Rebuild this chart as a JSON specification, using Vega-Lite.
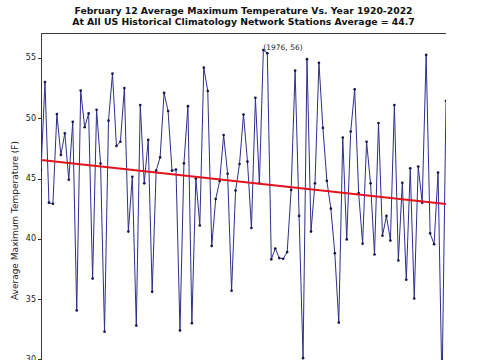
{
  "$schema": "https://vega.github.io/schema/vega-lite/v6.json",
  "width": 405,
  "height": 374,
  "autosize": {"type": "none"},
  "padding": {"left": 41, "top": 33, "right": 0, "bottom": 0},
  "background": "white",
  "config": {
    "font": "DejaVu Sans",
    "view": {"stroke": "#3a3a3a", "strokeWidth": 1},
    "axis": {"grid": false, "labelColor": "#222", "tickColor": "#333", "domainColor": "#3a3a3a", "labelFontSize": 8, "titleFontSize": 9, "titleFontWeight": "normal", "titleColor": "#222", "tickSize": 3.5, "labelPadding": 2}
  },
  "title": {
    "text": ["February 12 Average Maximum Temperature Vs. Year 1920-2022", "At All US Historical Climatology Network Stations Average = 44.7"],
    "fontSize": 9.3,
    "fontWeight": "bold",
    "color": "#111",
    "anchor": "middle",
    "offset": 6,
    "lineHeight": 11
  },
  "datasets": {
    "temps": [
      {"year": 1920, "temp": 45.7}, {"year": 1921, "temp": 53.0}, {"year": 1922, "temp": 43.0}, {"year": 1923, "temp": 42.9},
      {"year": 1924, "temp": 50.35}, {"year": 1925, "temp": 46.95}, {"year": 1926, "temp": 48.75}, {"year": 1927, "temp": 44.9},
      {"year": 1928, "temp": 49.7}, {"year": 1929, "temp": 34.05}, {"year": 1930, "temp": 52.3}, {"year": 1931, "temp": 49.25},
      {"year": 1932, "temp": 50.4}, {"year": 1933, "temp": 36.7}, {"year": 1934, "temp": 50.7}, {"year": 1935, "temp": 46.25},
      {"year": 1936, "temp": 32.3}, {"year": 1937, "temp": 49.8}, {"year": 1938, "temp": 53.7}, {"year": 1939, "temp": 47.7},
      {"year": 1940, "temp": 48.05}, {"year": 1941, "temp": 52.5}, {"year": 1942, "temp": 40.6}, {"year": 1943, "temp": 45.15},
      {"year": 1944, "temp": 32.8}, {"year": 1945, "temp": 51.1}, {"year": 1946, "temp": 44.6}, {"year": 1947, "temp": 48.2},
      {"year": 1948, "temp": 35.6}, {"year": 1949, "temp": 45.65}, {"year": 1950, "temp": 46.75}, {"year": 1951, "temp": 52.1},
      {"year": 1952, "temp": 50.6}, {"year": 1953, "temp": 45.65}, {"year": 1954, "temp": 45.75}, {"year": 1955, "temp": 32.4},
      {"year": 1956, "temp": 46.26}, {"year": 1957, "temp": 51.0}, {"year": 1958, "temp": 33.0}, {"year": 1959, "temp": 45.0},
      {"year": 1960, "temp": 41.1}, {"year": 1961, "temp": 54.2}, {"year": 1962, "temp": 52.26}, {"year": 1963, "temp": 39.4},
      {"year": 1964, "temp": 43.3}, {"year": 1965, "temp": 44.8}, {"year": 1966, "temp": 48.6}, {"year": 1967, "temp": 45.4},
      {"year": 1968, "temp": 35.7}, {"year": 1969, "temp": 44.0}, {"year": 1970, "temp": 46.2}, {"year": 1971, "temp": 50.3},
      {"year": 1972, "temp": 46.4}, {"year": 1973, "temp": 40.9}, {"year": 1974, "temp": 51.7}, {"year": 1975, "temp": 44.6},
      {"year": 1976, "temp": 55.66}, {"year": 1977, "temp": 55.4}, {"year": 1978, "temp": 38.3}, {"year": 1979, "temp": 39.2},
      {"year": 1980, "temp": 38.4}, {"year": 1981, "temp": 38.35}, {"year": 1982, "temp": 38.9}, {"year": 1983, "temp": 44.05},
      {"year": 1984, "temp": 53.95}, {"year": 1985, "temp": 41.9}, {"year": 1986, "temp": 30.1}, {"year": 1987, "temp": 54.9},
      {"year": 1988, "temp": 40.6}, {"year": 1989, "temp": 44.6}, {"year": 1990, "temp": 54.6}, {"year": 1991, "temp": 49.2},
      {"year": 1992, "temp": 44.8}, {"year": 1993, "temp": 42.5}, {"year": 1994, "temp": 38.8}, {"year": 1995, "temp": 33.05},
      {"year": 1996, "temp": 48.4}, {"year": 1997, "temp": 39.95}, {"year": 1998, "temp": 48.9}, {"year": 1999, "temp": 52.4},
      {"year": 2000, "temp": 43.8}, {"year": 2001, "temp": 39.6}, {"year": 2002, "temp": 48.05}, {"year": 2003, "temp": 44.6},
      {"year": 2004, "temp": 38.7}, {"year": 2005, "temp": 49.6}, {"year": 2006, "temp": 40.25}, {"year": 2007, "temp": 41.9},
      {"year": 2008, "temp": 39.85}, {"year": 2009, "temp": 51.1}, {"year": 2010, "temp": 38.2}, {"year": 2011, "temp": 44.65},
      {"year": 2012, "temp": 36.6}, {"year": 2013, "temp": 45.85}, {"year": 2014, "temp": 35.05}, {"year": 2015, "temp": 46.0},
      {"year": 2016, "temp": 43.0}, {"year": 2017, "temp": 55.25}, {"year": 2018, "temp": 40.45}, {"year": 2019, "temp": 39.55},
      {"year": 2020, "temp": 45.5}, {"year": 2021, "temp": 27.5}, {"year": 2022, "temp": 51.45}
    ],
    "trend": [
      {"year": 1920, "temp": 46.54},
      {"year": 2022, "temp": 42.88}
    ],
    "peak": [
      {"year": 1976, "temp": 55.66, "label": "(1976, 56)"}
    ]
  },
  "encoding": {
    "x": {
      "field": "year", "type": "quantitative",
      "scale": {"domain": [1920, 2022], "nice": false, "zero": false},
      "axis": null
    },
    "y": {
      "field": "temp", "type": "quantitative",
      "scale": {"domain": [26.05, 57.07], "nice": false, "zero": false},
      "axis": {"title": "Average Maximum Temperature (F)", "values": [30, 35, 40, 45, 50, 55], "titlePadding": 6}
    }
  },
  "layer": [
    {
      "data": {"name": "temps"},
      "mark": {"type": "line", "color": "#2e2e8c", "strokeWidth": 1, "clip": true}
    },
    {
      "data": {"name": "temps"},
      "mark": {"type": "point", "filled": true, "color": "#15154a", "size": 7, "opacity": 1, "clip": true}
    },
    {
      "data": {"name": "trend"},
      "mark": {"type": "line", "color": "#e3121c", "strokeWidth": 2}
    },
    {
      "data": {"name": "peak"},
      "mark": {"type": "text", "align": "left", "baseline": "middle", "dy": -2, "fontSize": 7.5, "color": "#222"},
      "encoding": {"text": {"field": "label"}}
    }
  ]
}
